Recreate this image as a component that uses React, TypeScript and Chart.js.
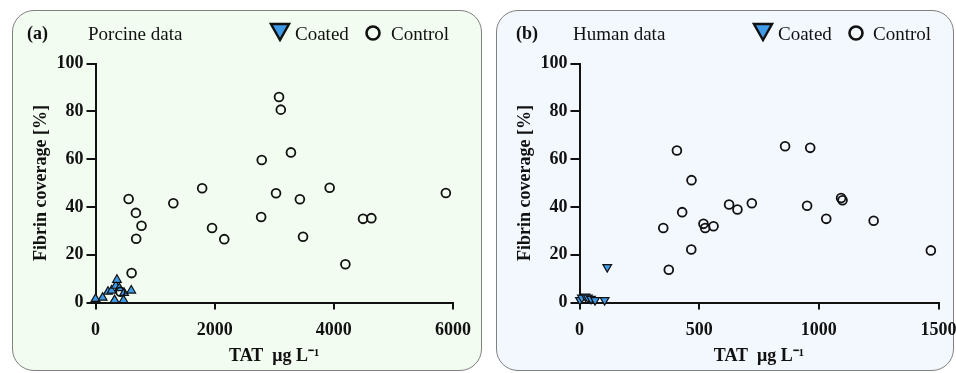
import React, { useEffect, useRef } from "react";
import { Chart, registerables } from "chart.js";
Chart.register(...registerables);

// ---------- data ----------
const porcineCoated: [number, number][] = [
  [0, 1.5], [120, 2], [210, 4.5], [270, 5], [340, 7], [360, 9.5],
  [400, 6], [480, 4], [600, 5], [320, 1], [470, 1],
];
const porcineControl: [number, number][] = [
  [3080, 86], [3110, 80.7], [3280, 62.8], [2790, 59.6], [1790, 47.8],
  [3930, 48], [5880, 45.8], [3030, 45.7], [3430, 43.2], [556, 43.3],
  [1306, 41.5], [678, 37.5], [2780, 35.8], [4490, 35], [4630, 35.3],
  [772, 32.1], [1956, 31.2], [683, 26.7], [2161, 26.5], [3483, 27.5],
  [4194, 16], [606, 12.3], [420, 4.5],
];
const humanCoated: [number, number][] = [
  [2, 1], [10, 2], [25, 2.5], [35, 2], [48, 1.5], [65, 1], [105, 1], [116, 14.8],
];
const humanControl: [number, number][] = [
  [859, 65.4], [964, 64.7], [407, 63.6], [468, 51.2], [1093, 43.7],
  [1099, 42.8], [720, 41.5], [625, 41], [951, 40.5], [660, 38.9],
  [429, 37.8], [1031, 35], [1229, 34.2], [518, 32.9], [525, 31.2],
  [560, 31.9], [350, 31.2], [467, 22.2], [1468, 21.8], [373, 13.7],
];
const yTicks = [0, 20, 40, 60, 80, 100];
const porcineXTicks = [0, 2000, 4000, 6000];
const humanXTicks = [0, 500, 1000, 1500];

const SERIF = "'Liberation Serif', 'Times New Roman', serif";
const BLUE = "#3f9ae8";

type PanelProps = {
  left: number; top: number; width: number; height: number;
  bg: string; canvasW: number; canvasH: number;
  plotLeft: number; plotRight: number; plotTop: number; plotBottom: number;
  coated: [number, number][]; control: [number, number][];
  xTicks: number[]; coatedRotation: number;
};

function Panel(p: PanelProps) {
  const ref = useRef<HTMLCanvasElement | null>(null);
  useEffect(() => {
    if (!ref.current) return;
    const bw = 1.5;
    const ox = p.left + bw, oy = p.top + bw;
    const cl = p.plotLeft - ox, cr = p.plotRight - ox;
    const ct = p.plotTop - oy, cb = p.plotBottom - oy;
    const xMax = p.xTicks[p.xTicks.length - 1];
    const chart = new Chart(ref.current, {
      type: "scatter",
      data: {
        datasets: [
          {
            label: "Control",
            data: p.control.map(([x, y]) => ({ x, y })),
            pointStyle: "circle",
            radius: 4.4,
            backgroundColor: "rgba(0,0,0,0)",
            borderColor: "#111",
            borderWidth: 1.8,
            clip: false,
          } as any,
          {
            label: "Coated",
            data: p.coated.map(([x, y]) => ({ x, y })),
            pointStyle: "triangle",
            radius: 5,
            rotation: p.coatedRotation,
            backgroundColor: BLUE,
            borderColor: "#111",
            borderWidth: 1.2,
            clip: false,
          } as any,
        ],
      },
      options: {
        animation: false,
        responsive: false,
        devicePixelRatio: 1,
        layout: { padding: { left: 0, top: ct, right: p.canvasW - cr, bottom: 0 } },
        plugins: { legend: { display: false }, tooltip: { enabled: false } },
        scales: {
          x: {
            type: "linear",
            min: 0,
            max: xMax,
            afterFit: (s: any) => { s.height = p.canvasH - cb; },
            afterBuildTicks: (s: any) => { s.ticks = p.xTicks.map((v) => ({ value: v })); },
            ticks: {
              color: "#111",
              font: { family: SERIF, size: 18, weight: "bold" },
              padding: 10,
              maxRotation: 0,
              callback: (v: any) => String(v),
            },
            grid: { display: true, drawOnChartArea: false, drawTicks: true, tickLength: 7, color: "#111", lineWidth: 2 },
            border: { display: true, color: "#111", width: 2 },
            title: {
              display: true,
              text: "TAT  μg L⁻¹",
              color: "#111",
              font: { family: SERIF, size: 18, weight: "bold" },
              padding: { top: 0, bottom: 3 },
            },
          },
          y: {
            type: "linear",
            min: 0,
            max: 100,
            afterFit: (s: any) => { s.width = cl; },
            afterBuildTicks: (s: any) => { s.ticks = yTicks.map((v) => ({ value: v })); },
            ticks: {
              color: "#111",
              font: { family: SERIF, size: 18, weight: "bold" },
              padding: 3,
              callback: (v: any) => String(v),
            },
            grid: { display: true, drawOnChartArea: false, drawTicks: true, tickLength: 9, color: "#111", lineWidth: 2 },
            border: { display: true, color: "#111", width: 2 },
            title: {
              display: true,
              text: "Fibrin coverage [%]",
              color: "#111",
              font: { family: SERIF, size: 18, weight: "bold" },
              padding: { top: 18, bottom: 0 },
            },
          },
        },
      } as any,
    });
    return () => chart.destroy();
  }, []);
  return (
    <div
      style={{
        position: "absolute",
        left: p.left,
        top: p.top,
        width: p.width - 3,
        height: p.height - 3,
        border: "1.5px solid #808080",
        borderRadius: 22,
        background: p.bg,
        overflow: "visible",
      }}
    >
      <canvas
        ref={ref}
        width={p.canvasW}
        height={p.canvasH}
        style={{ position: "absolute", left: 0, top: 0, width: p.canvasW, height: p.canvasH }}
      />
    </div>
  );
}

function DownTriangle({ x, y }: { x: number; y: number }) {
  return (
    <svg style={{ position: "absolute", left: x, top: y }} width={22} height={20}>
      <polygon points="2,2 20,2 11,18" fill={BLUE} stroke="#111" strokeWidth={2.4} strokeLinejoin="miter" />
    </svg>
  );
}
function Ring({ x, y }: { x: number; y: number }) {
  return (
    <svg style={{ position: "absolute", left: x, top: y }} width={18} height={18}>
      <circle cx={9} cy={9} r={6.5} fill="none" stroke="#111" strokeWidth={2.6} />
    </svg>
  );
}
function Txt({ x, y, text, bold, size }: { x: number; y: number; text: string; bold?: boolean; size: number }) {
  return (
    <div
      style={{
        position: "absolute",
        left: x,
        top: y,
        fontFamily: SERIF,
        fontSize: size,
        fontWeight: bold ? "bold" : "normal",
        lineHeight: 1,
        color: "#111",
        whiteSpace: "nowrap",
      }}
    >
      {text}
    </div>
  );
}

export default function App() {
  return (
    <div style={{ position: "fixed", left: 0, top: 0, width: 956, height: 373, overflow: "hidden", background: "#fff" }}>
      <Panel
        left={12} top={10} width={471} height={362} bg="#f2fcf0"
        canvasW={468} canvasH={359}
        plotLeft={96} plotRight={456} plotTop={64} plotBottom={303}
        coated={porcineCoated} control={porcineControl}
        xTicks={porcineXTicks} coatedRotation={0}
      />
      <Panel
        left={496} top={10} width={459} height={362} bg="#f3f8fe"
        canvasW={520} canvasH={359}
        plotLeft={580} plotRight={939} plotTop={64} plotBottom={303}
        coated={humanCoated} control={humanControl}
        xTicks={humanXTicks} coatedRotation={180}
      />
      <Txt x={27} y={24} text="(a)" bold size={18} />
      <Txt x={88} y={24} text="Porcine data" size={19} />
      <DownTriangle x={269} y={22} />
      <Txt x={295} y={24} text="Coated" size={19} />
      <Ring x={364} y={24} />
      <Txt x={391} y={24} text="Control" size={19} />

      <Txt x={516} y={24} text="(b)" bold size={18} />
      <Txt x={573} y={24} text="Human data" size={19} />
      <DownTriangle x={752} y={22} />
      <Txt x={778} y={24} text="Coated" size={19} />
      <Ring x={847} y={24} />
      <Txt x={873} y={24} text="Control" size={19} />
    </div>
  );
}
